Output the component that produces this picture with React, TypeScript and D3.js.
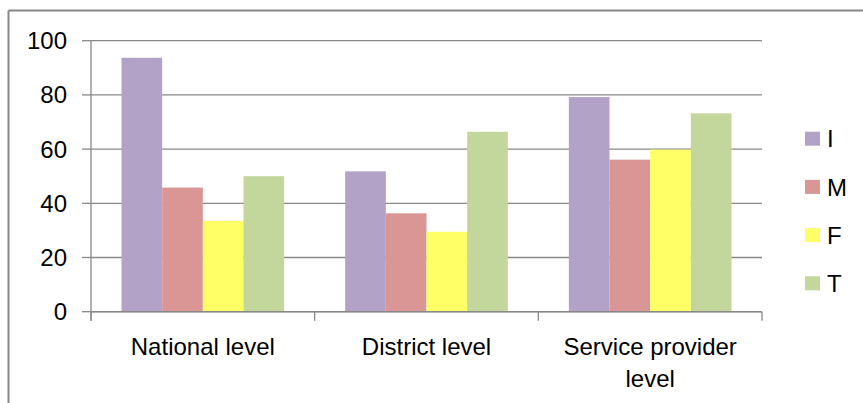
import React from "react";
import * as d3 from "d3";

const categories = ["National level", "District level", "Service provider level"];
const seriesNames = ["I", "M", "F", "T"];
const valuesI = [93.7, 51.8, 79.2];
const valuesM = [45.8, 36.3, 56.1];
const valuesF = [33.5, 29.5, 59.8];
const valuesT = [50.0, 66.4, 73.2];
const yTicks = [0, 20, 40, 60, 80, 100];
const colors = ["#B3A2C7", "#D99694", "#FFFF66", "#C3D69B"];

const series = [valuesI, valuesM, valuesF, valuesT];

export default function App() {
  const W = 863, H = 403;
  const left = 91, right = 762, top = 40.7, bottom = 311.7;
  const x = d3.scaleBand<string>().domain(categories).range([left, right]).paddingInner(0).paddingOuter(0);
  const y = d3.scaleLinear().domain([0, 100]).range([bottom, top]);
  const bw = x.bandwidth();
  const groupW = bw * (4 / 5.5);
  const inner = d3.scaleBand<string>().domain(seriesNames).range([0, groupW]).padding(0);
  const font = "'Liberation Sans', Arial, sans-serif";
  const gray = "#888888";
  const catLines = (c: string) => (c === "Service provider level" ? ["Service provider", "level"] : [c]);
  return (
    <svg width={W} height={H} style={{ position: "absolute", left: 0, top: 0 }}>
      <rect x={0} y={0} width={W} height={H} fill="#fff" />
      <line x1={8.5} y1={10.5} x2={8.5} y2={H} stroke={gray} strokeWidth={2} />
      <line x1={8.5} y1={10.5} x2={W} y2={10.5} stroke={gray} strokeWidth={2} />
      {yTicks.map((t) => (
        <g key={t}>
          <line x1={left} x2={right} y1={y(t)} y2={y(t)} stroke={gray} strokeWidth={1.3} />
          <line x1={82} x2={left} y1={y(t)} y2={y(t)} stroke={gray} strokeWidth={1.3} />
          <text x={67} y={y(t) + 8.5} textAnchor="end" fontFamily={font} fontSize={24} fill="#000">{t}</text>
        </g>
      ))}
      {categories.map((c, ci) =>
        series.map((vals, si) => (
          <rect
            key={c + si}
            x={(x(c) as number) + (bw - groupW) / 2 + (inner(seriesNames[si]) as number)}
            y={y(vals[ci])}
            width={inner.bandwidth()}
            height={y(0) - y(vals[ci])}
            fill={colors[si]}
          />
        ))
      )}
      <line x1={left} x2={left} y1={top} y2={bottom + 9} stroke={gray} strokeWidth={1.3} />
      <line x1={left} x2={right} y1={bottom} y2={bottom} stroke={gray} strokeWidth={1.5} />
      {[...categories.map((c) => x(c) as number), right].map((px, i) => (
        <line key={i} x1={px} x2={px} y1={bottom} y2={bottom + 9} stroke={gray} strokeWidth={1.3} />
      ))}
      {categories.map((c) => (
        <text key={c} textAnchor="middle" fontFamily={font} fontSize={24} fill="#000">
          {catLines(c).map((ln, li) => (
            <tspan key={li} x={(x(c) as number) + bw / 2} y={355 + li * 32}>{ln}</tspan>
          ))}
        </text>
      ))}
      {seriesNames.map((s, i) => {
        const cy = 138.7 + i * 48.2;
        return (
          <g key={s}>
            <rect x={805} y={cy - 7} width={15} height={14} fill={colors[i]} />
            <text x={827} y={cy + 8.7} fontFamily={font} fontSize={24} fill="#000">{s}</text>
          </g>
        );
      })}
    </svg>
  );
}
